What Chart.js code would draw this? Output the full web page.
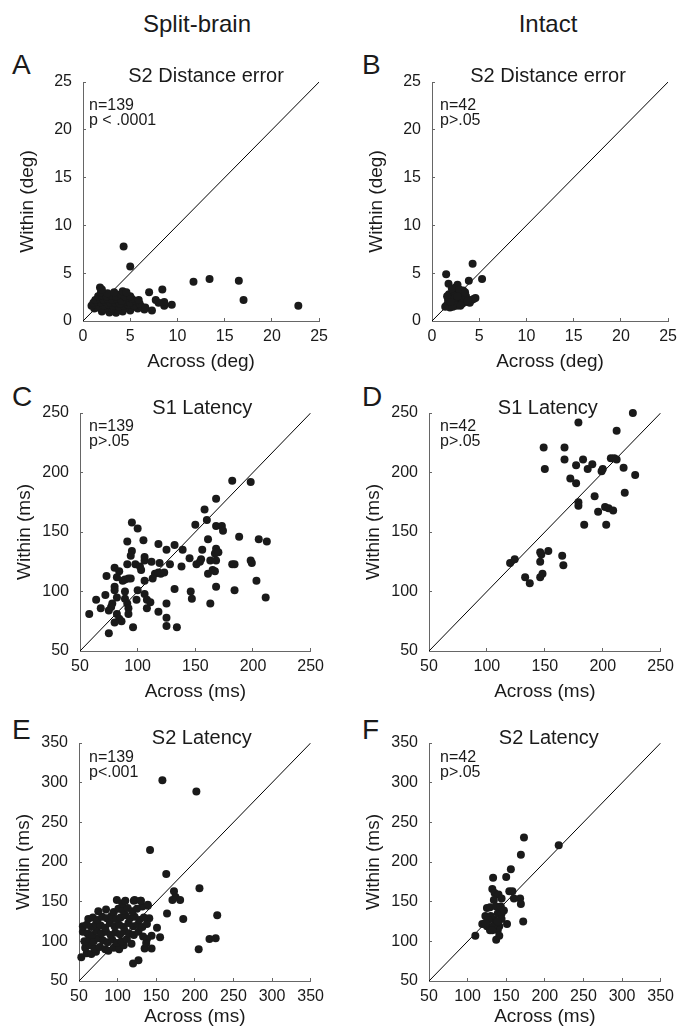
<!DOCTYPE html>
<html>
<head>
<meta charset="utf-8">
<script src="https://cdn.jsdelivr.net/npm/chart.js@4.4.1/dist/chart.umd.min.js"></script>
<style>
  html, body { margin: 0; padding: 0; background: #fff; overflow: hidden; }
  body { width: 679px; height: 1032px; position: relative; font-family: "Liberation Sans", Arial, sans-serif; color: #1a1a1a; }
  .col { position: absolute; font-size: 24px; line-height: 1; white-space: nowrap; transform: translateX(-50%); }
  .letter { position: absolute; font-size: 28px; line-height: 1; }
  canvas { position: absolute; }
</style>
</head>
<body>
<div class="col" style="left:197px; top:12px;">Split-brain</div>
<div class="col" style="left:548px; top:12px;">Intact</div>
<div class="letter" style="left:12px; top:51px;">A</div>
<div class="letter" style="left:362px; top:51px;">B</div>
<div class="letter" style="left:12px; top:383px;">C</div>
<div class="letter" style="left:362px; top:383px;">D</div>
<div class="letter" style="left:12px; top:716px;">E</div>
<div class="letter" style="left:362px; top:716px;">F</div>

<script>
// [across, within] pairs for each panel
const splitDist = [
  [4.3,7.8],[5.0,5.7],[11.7,4.1],[13.4,4.4],[16.5,4.2],[17.0,2.2],[22.8,1.6],[8.4,3.3],
  [7.0,3.0],[9.4,1.7],[8.6,1.6],[7.3,1.1],[1.8,3.5],[7.7,2.2],[8.6,2.0],[8.0,1.9],
  [2.0,1.0],[2.8,0.9],[3.5,0.85],[4.2,1.0],[5.0,1.1],[6.5,1.2],[3.0,1.1],[2.3,1.2],
  [1.2,1.3],[1.6,1.4],[2.1,1.3],[2.6,1.4],[3.1,1.3],[3.7,1.2],[4.4,1.3],[5.2,1.4],[5.8,1.3],[6.2,1.5],
  [0.9,1.6],[1.3,1.7],[1.7,1.6],[2.2,1.6],[2.7,1.7],[3.2,1.6],[3.8,1.5],[4.3,1.6],[4.8,1.7],[5.4,1.6],[6.0,1.8],[6.6,1.4],
  [1.1,1.9],[1.5,2.0],[1.9,1.9],[2.4,2.0],[2.9,1.9],[3.4,1.9],[3.9,1.8],[4.5,2.0],[5.0,1.9],[5.6,2.1],
  [1.3,2.2],[1.8,2.3],[2.2,2.2],[2.6,2.3],[3.1,2.2],[3.6,2.3],[4.1,2.1],[4.6,2.4],[5.2,2.3],[5.9,2.2],
  [1.6,2.6],[2.0,2.7],[2.5,2.6],[3.0,2.7],[3.5,2.6],[4.0,2.8],[4.4,2.6],[5.0,2.6],
  [1.9,3.0],[2.6,2.9],[3.3,3.0],[4.2,3.1],[4.6,3.0],[2.0,3.3]
];
const intactDist = [
  [1.4,1.5],[1.6,1.7],[1.9,1.6],[2.1,1.9],[1.7,2.2],[2.0,2.5],[1.8,2.8],[2.2,3.0],[2.4,2.7],[2.6,2.3],
  [2.3,2.0],[2.8,2.0],[3.0,2.5],[3.2,1.8],[2.6,1.6],[2.9,2.9],[3.4,2.2],[3.6,2.6],[3.3,3.2],[2.5,3.5],
  [2.7,3.8],[1.5,4.9],[1.75,3.9],[3.9,4.2],[4.3,6.0],[5.3,4.4],[4.6,2.4],[4.2,2.2],[3.7,2.0],[4.0,1.9],
  [1.9,1.4],[2.2,1.5],[3.0,1.6],[2.4,2.4],[1.6,2.6],[2.9,3.3],[3.5,3.0],[2.1,3.4],[4.4,2.3],[3.8,2.1],
  [2.0,2.0],[2.7,2.6]
];
const splitS1 = [
  [58,81],[64,93],[73,113],[72,97],[68,86],[75,65],[80,120],[80,104],[80,101],[78,90],
  [77,87],[75,84],[82,95],[82,81],[84,77],[86,75],[80,74],[84,117],[87,109],[91,142],
  [95,158],[95,134],[94,130],[91,123],[89,110],[92,111],[94,111],[89,94],[91,90],[92,86],
  [92,81],[89,100],[96,70],[100,153],[105,143],[98,123],[102,121],[106,126],[106,129],[100,101],
  [99,93],[103,118],[106,109],[106,98],[108,93],[111,91],[108,86],[112,125],[113,111],[115,115],
  [118,116],[118,140],[119,124],[118,83],[120,115],[123,116],[125,135],[128,123],[125,90],[125,78],
  [125,71],[132,102],[134,70],[132,139],[139,135],[138,121],[145,128],[146,100],[147,94],[150,156],
  [151,123],[154,125],[155,127],[156,135],[158,169],[160,160],[161,144],[161,115],[163,90],[163,126],
  [165,118],[167,132],[168,136],[167,117],[168,178],[168,155],[168,104],[168,126],[170,133],[173,155],
  [174,151],[182,193],[182,123],[184,123],[184,101],[188,146],[198,192],[198,126],[199,124],[203,109],
  [205,144],[211,95],[212,142],[82,112]
];
const intactS1 = [
  [120,124],[124,127],[133,112],[137,107],[146,133],[146,125],[146,112],[148,115],[147,131],[153,134],
  [149,221],[150,203],[165,130],[166,122],[167,221],[167,211],[172,195],[177,191],[177,206],[179,242],
  [179,175],[179,172],[183,211],[184,156],[187,203],[191,207],[193,180],[196,167],[199,201],[200,203],
  [202,171],[203,156],[205,170],[207,212],[209,168],[212,211],[212,235],[218,204],[219,183],[226,250],
  [228,198],[210,212]
];
const splitS2 = [
  [158,303],[202,289],[142,215],[163,185],[206,167],[173,163],[175,156],[171,152],[181,152],[164,135],
  [185,128],[229,133],[219,103],[227,104],[205,90],[151,117],[155,105],[144,107],[138,103],[135,91],
  [137,98],[144,91],[127,76],[120,72],[141,129],[139,145],[132,144],[121,151],[130,151],
  [53,80],[60,85],[66,84],[72,87],
  [58,92],[64,95],[70,91],[77,93],[84,90],[88,88],[95,92],[102,90],[108,95],
  [57,100],[63,103],[69,100],[75,104],[81,101],[87,99],[93,102],[99,98],[105,100],[112,103],[118,97],
  [55,112],[61,110],[67,108],[73,113],[79,110],[85,112],[91,108],[97,111],[103,109],[109,113],[115,110],[121,108],[127,112],[133,106],
  [55,119],[60,121],[66,118],[72,122],[78,120],[84,117],[90,123],[96,119],[102,121],[108,118],[114,123],[120,119],[126,121],[132,118],[138,122],
  [62,128],[68,130],[74,127],[80,131],[86,129],[92,132],[98,128],[104,130],[110,133],[116,129],[122,131],[128,127],[134,130],
  [75,138],[85,140],[95,137],[101,141],[107,139],[113,142],[119,138],[125,141],
  [99,152],[106,148],[110,151],[122,152],[130,151],[139,146]
];
const intactS2 = [
  [110,107],[133,180],[150,181],[156,191],[173,231],[169,209],[218,221],[168,154],[169,147],[172,125],
  [151,122],[137,102],[154,163],[158,163],[160,154],[132,166],[135,161],[140,159],[144,154],[134,152],
  [125,142],[129,143],[123,132],[119,122],[125,119],[129,114],[135,127],[139,135],[144,135],[141,119],
  [139,114],[130,132],[133,119],[137,144],[143,144],[127,127],[144,128],[132,114],[147,139],[139,125],
  [123,123],[141,107]
];

const degRange = [0, 25];
const s1Range = [50, 250];
const s2Range = [50, 350];

const FONT = '"Liberation Sans", Arial, sans-serif';
const INK = '#1a1a1a';
const AXIS = '#666';

// plot box = [left, top, width, height] of each panel's axes
const panels = [
  { data: splitDist, range: degRange, step: 5, unit: 'deg', box: [83, 82, 238, 239],
    title: 'S2 Distance error', titleDx: 5, titleDy: 0, stats: ['n=139', 'p < .0001'], statsDx: 6, statsDy: 28, xGap: 41 },
  { data: intactDist, range: degRange, step: 5, unit: 'deg', box: [432, 82, 238, 239],
    title: 'S2 Distance error', titleDx: -2, titleDy: 0, stats: ['n=42', 'p>.05'], statsDx: 8, statsDy: 28, xGap: 41 },
  { data: splitS1, range: s1Range, step: 50, unit: 'ms', box: [80, 413, 237, 238],
    title: 'S1 Latency', titleDx: 7, titleDy: 1, stats: ['n=139', 'p>.05'], statsDx: 9, statsDy: 18, xGap: 41 },
  { data: intactS1, range: s1Range, step: 50, unit: 'ms', box: [429, 413, 238, 238],
    title: 'S1 Latency', titleDx: 3, titleDy: 1, stats: ['n=42', 'p>.05'], statsDx: 11, statsDy: 18, xGap: 41 },
  { data: splitS2, range: s2Range, step: 50, unit: 'ms', box: [79, 743, 238, 238],
    title: 'S2 Latency', titleDx: 7, titleDy: 1, stats: ['n=139', 'p<.001'], statsDx: 10, statsDy: 19, xGap: 36 },
  { data: intactS2, range: s2Range, step: 50, unit: 'ms', box: [429, 743, 238, 238],
    title: 'S2 Latency', titleDx: 4, titleDy: 1, stats: ['n=42', 'p>.05'], statsDx: 11, statsDy: 19, xGap: 36 }
];

// panel heading above the axes and the n / p note in the upper left corner
const panelText = {
  id: 'panelText',
  afterDraw(chart, args, opts) {
    const ctx = chart.ctx;
    const a = chart.chartArea;
    ctx.save();
    ctx.fillStyle = INK;
    ctx.textBaseline = 'alphabetic';
    ctx.font = '20px ' + FONT;
    ctx.textAlign = 'center';
    ctx.fillText(opts.title, (a.left + a.right) / 2 + opts.titleDx, a.top + opts.titleDy);
    ctx.font = '16px ' + FONT;
    ctx.textAlign = 'left';
    opts.stats.forEach((s, i) => ctx.fillText(s, a.left + opts.statsDx, a.top + opts.statsDy + i * 14.5));
    ctx.restore();
  }
};

const PAD_L = 70, PAD_T = 40, PAD_R = 16, PAD_B = 55;

panels.forEach(p => {
  const [bx, by, bw, bh] = p.box;
  const cv = document.createElement('canvas');
  cv.width = bw + PAD_L + PAD_R;
  cv.height = bh + PAD_T + PAD_B;
  cv.style.left = (bx - PAD_L) + 'px';
  cv.style.top = (by - PAD_T) + 'px';
  document.body.appendChild(cv);

  const lo = p.range[0], hi = p.range[1];

  new Chart(cv, {
    type: 'scatter',
    data: {
      datasets: [
        {
          data: p.data.map(d => ({ x: d[0], y: d[1] })),
          pointRadius: 4,
          pointHoverRadius: 4,
          backgroundColor: INK,
          borderWidth: 0,
          clip: false,
          order: 1
        },
        {
          // unity line
          data: [{ x: lo, y: lo }, { x: hi, y: hi }],
          showLine: true,
          pointRadius: 0,
          borderColor: '#000',
          borderWidth: 1,
          order: 2
        }
      ]
    },
    options: {
      responsive: false,
      animation: false,
      events: [],
      layout: { padding: { top: PAD_T, right: PAD_R, left: 0, bottom: 0 } },
      plugins: {
        legend: { display: false },
        tooltip: { enabled: false },
        panelText: {
          title: p.title, titleDx: p.titleDx, titleDy: p.titleDy,
          stats: p.stats, statsDx: p.statsDx, statsDy: p.statsDy
        }
      },
      scales: {
        x: {
          type: 'linear',
          min: lo, max: hi,
          afterFit: s => { s.height = PAD_B; },
          border: { color: AXIS, width: 1 },
          grid: { drawOnChartArea: false, drawTicks: true, tickLength: -3, color: AXIS },
          ticks: { stepSize: p.step, autoSkip: false, maxRotation: 0, padding: 9, color: INK, font: { family: FONT, size: 16 } },
          title: {
            display: true, text: 'Across (' + p.unit + ')', color: INK,
            font: { family: FONT, size: 19 },
            padding: { top: 0, bottom: PAD_B - p.xGap - 11.4 }
          }
        },
        y: {
          type: 'linear',
          min: lo, max: hi,
          afterFit: s => { s.width = PAD_L; },
          border: { color: AXIS, width: 1 },
          grid: { drawOnChartArea: false, drawTicks: true, tickLength: -3, color: AXIS },
          ticks: { stepSize: p.step, autoSkip: false, padding: 14, color: INK, font: { family: FONT, size: 16 } },
          title: {
            display: true, text: 'Within (' + p.unit + ')', color: INK,
            font: { family: FONT, size: 19 },
            padding: { top: 3.6, bottom: 0 }
          }
        }
      }
    },
    plugins: [panelText]
  });
});
</script>
</body>
</html>
